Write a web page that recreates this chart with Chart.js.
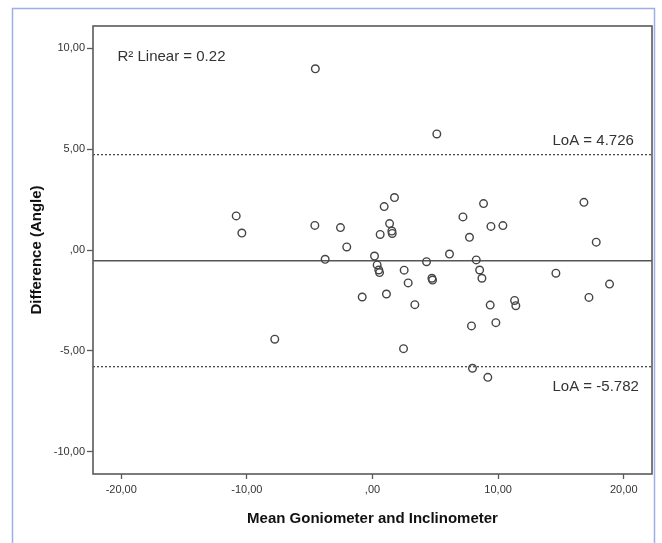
<!DOCTYPE html>
<html>
<head>
<meta charset="utf-8">
<script src="https://cdn.jsdelivr.net/npm/chart.js@4"></script>
<style>
  body { margin: 0; background: #fff; }
  #wrap { width: 662px; height: 543px; }
</style>
</head>
<body>
<div id="wrap"><canvas id="blandAltman" width="662" height="543"></canvas></div>
<script>
// mean of the two instruments (x) and their difference (y)
const meanValues = [
  -10.85, -10.40, -7.78, -4.55, -4.59, -3.77, -2.55, -2.05, -0.82, 0.16,
  0.37, 0.50, 0.56, 0.61, 0.93, 1.11, 1.36, 1.54, 1.57, 1.75,
  2.47, 2.52, 2.84, 3.37, 4.30, 4.73, 4.78, 5.12, 6.13, 7.20,
  7.72, 7.88, 7.96, 8.26, 8.53, 8.71, 8.84, 9.18, 9.37, 9.43,
  9.82, 10.38, 11.31, 11.41, 14.60, 16.83, 17.23, 17.81, 18.87
];
const diffValues = [
  1.69, 0.84, -4.42, 8.98, 1.22, -0.46, 1.11, 0.15, -2.33, -0.30,
  -0.74, -0.99, -1.12, 0.77, 2.15, -2.18, 1.31, 0.94, 0.82, 2.60,
  -4.89, -1.00, -1.63, -2.71, -0.58, -1.40, -1.49, 5.75, -0.20, 1.64,
  0.63, -3.76, -5.86, -0.49, -0.99, -1.40, 2.30, -6.31, -2.73, 1.17,
  -3.60, 1.21, -2.50, -2.76, -1.15, 2.36, -2.35, 0.39, -1.69
];

// limits of agreement and mean difference
const upperLoA = 4.726;
const lowerLoA = -5.782;
const meanDiff = (upperLoA + lowerLoA) / 2;
const rSquared = 0.22;

// axis ticks (SPSS style comma decimals)
const xTickValues = [-20, -10, 0, 10, 20];
const xTickLabels = ["-20,00", "-10,00", ",00", "10,00", "20,00"];
const yTickValues = [-10, -5, 0, 5, 10];
const yTickLabels = ["-10,00", "-5,00", ",00", "5,00", "10,00"];

const xMin = -22.25, xMax = 22.25;
const yMin = -11.1, yMax = 11.1;

const frameColor = "#5a5a5a";
const textColor = "#333333";
const fontFamily = '"Liberation Sans", Arial, sans-serif';

const points = meanValues.map((x, i) => ({ x: x, y: diffValues[i] }));

function hLine(y) {
  return [{ x: xMin, y: y }, { x: xMax, y: y }];
}

// white page + light blue outer border
const pageBorder = {
  id: "pageBorder",
  beforeDraw(chart) {
    const ctx = chart.ctx;
    ctx.save();
    ctx.fillStyle = "#ffffff";
    ctx.fillRect(0, 0, chart.width, chart.height);
    ctx.strokeStyle = "#9eaee6";
    ctx.lineWidth = 1.5;
    ctx.strokeRect(12.5, 8.5, 642, 560);
    ctx.restore();
  }
};

// plot frame + text notes
const frameAndNotes = {
  id: "frameAndNotes",
  afterDraw(chart) {
    const ctx = chart.ctx;
    const a = chart.chartArea;
    const xs = chart.scales.x, ys = chart.scales.y;
    ctx.save();
    ctx.strokeStyle = frameColor;
    ctx.lineWidth = 1.6;
    ctx.strokeRect(a.left, a.top, a.right - a.left, a.bottom - a.top);

    ctx.fillStyle = textColor;
    ctx.font = "15px " + fontFamily;
    ctx.textBaseline = "middle";
    ctx.textAlign = "left";
    ctx.fillText("R² Linear = " + rSquared.toFixed(2), xs.getPixelForValue(-20.3), ys.getPixelForValue(9.56));
    ctx.fillText("LoA = " + upperLoA, xs.getPixelForValue(14.33), ys.getPixelForValue(5.42));
    ctx.fillText("LoA = " + lowerLoA, xs.getPixelForValue(14.33), ys.getPixelForValue(-6.8));
    ctx.restore();
  }
};

const ctx = document.getElementById("blandAltman").getContext("2d");
new Chart(ctx, {
  type: "scatter",
  data: {
    datasets: [
      {
        label: "Difference",
        data: points,
        pointStyle: "circle",
        pointRadius: 3.8,
        pointBorderWidth: 1.4,
        pointBorderColor: "#444444",
        pointBackgroundColor: "rgba(0,0,0,0)",
        order: 0
      },
      {
        type: "line",
        label: "Mean",
        data: hLine(meanDiff),
        borderColor: "#555555",
        borderWidth: 1.5,
        pointRadius: 0,
        order: 1
      },
      {
        type: "line",
        label: "Upper LoA",
        data: hLine(upperLoA),
        borderColor: "#4a4a4a",
        borderWidth: 1.3,
        borderDash: [2, 2],
        pointRadius: 0,
        order: 1
      },
      {
        type: "line",
        label: "Lower LoA",
        data: hLine(lowerLoA),
        borderColor: "#4a4a4a",
        borderWidth: 1.3,
        borderDash: [2, 2],
        pointRadius: 0,
        order: 1
      }
    ]
  },
  options: {
    responsive: false,
    animation: false,
    devicePixelRatio: 1,
    layout: { padding: { top: 26, right: 10, left: 0, bottom: 0 } },
    plugins: {
      legend: { display: false },
      tooltip: { enabled: false }
    },
    scales: {
      x: {
        type: "linear",
        min: xMin,
        max: xMax,
        afterFit(scale) { scale.height = 69; },
        afterBuildTicks(scale) { scale.ticks = xTickValues.map(v => ({ value: v })); },
        border: { display: false },
        grid: { drawOnChartArea: false, drawTicks: true, tickLength: 5, tickColor: frameColor, tickWidth: 1.3 },
        ticks: {
          color: textColor,
          font: { family: fontFamily, size: 11 },
          padding: 4,
          maxRotation: 0,
          callback: (v) => xTickLabels[xTickValues.indexOf(v)]
        },
        title: {
          display: true,
          text: "Mean Goniometer and Inclinometer",
          color: "#111111",
          font: { family: fontFamily, size: 15, weight: "bold" },
          padding: { top: 0, bottom: 15 }
        }
      },
      y: {
        type: "linear",
        min: yMin,
        max: yMax,
        afterFit(scale) { scale.width = 93; },
        afterBuildTicks(scale) { scale.ticks = yTickValues.map(v => ({ value: v })); },
        border: { display: false },
        grid: { drawOnChartArea: false, drawTicks: true, tickLength: 6, tickColor: frameColor, tickWidth: 1.3 },
        ticks: {
          color: textColor,
          font: { family: fontFamily, size: 11 },
          padding: 2,
          callback: (v) => yTickLabels[yTickValues.indexOf(v)]
        },
        title: {
          display: true,
          text: "Difference (Angle)",
          color: "#111111",
          font: { family: fontFamily, size: 15, weight: "bold" },
          padding: { top: 28, bottom: 0 }
        }
      }
    }
  },
  plugins: [pageBorder, frameAndNotes]
});
</script>
</body>
</html>
